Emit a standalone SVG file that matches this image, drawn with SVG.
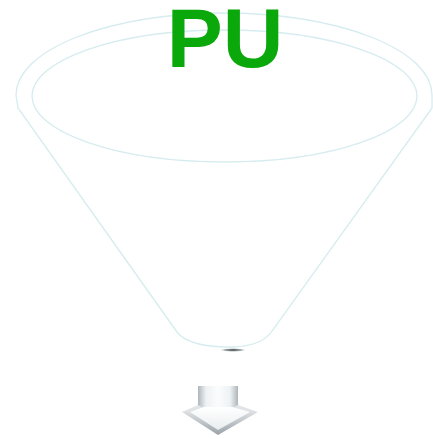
<svg xmlns="http://www.w3.org/2000/svg" width="433" height="439" viewBox="0 0 433 439">
<style>
.f{fill:none;stroke:#d6ecef;stroke-width:1.3}
.t{font-family:"Liberation Sans",Arial,sans-serif;font-weight:bold;font-size:84px;fill:#0aa80a;text-anchor:middle}
</style>
<defs>
<radialGradient id="sh" cx="0.5" cy="0.5" r="0.5">
<stop offset="0" stop-color="#2a3436"/>
<stop offset="0.6" stop-color="#7c8789" stop-opacity="0.7"/>
<stop offset="1" stop-color="#ffffff" stop-opacity="0"/>
</radialGradient>
<linearGradient id="as" x1="0" y1="0" x2="1" y2="0">
<stop offset="0" stop-color="#aeb5ba"/>
<stop offset="0.2" stop-color="#eef2f4"/>
<stop offset="0.5" stop-color="#fbfcfd"/>
<stop offset="0.8" stop-color="#eef2f4"/>
<stop offset="1" stop-color="#aeb5ba"/>
</linearGradient>
<linearGradient id="ah" x1="0" y1="0" x2="0" y2="1">
<stop offset="0" stop-color="#f4f6f7"/>
<stop offset="0.5" stop-color="#dfe3e6"/>
<stop offset="1" stop-color="#9aa2a8"/>
</linearGradient>
<linearGradient id="af" x1="0" y1="0" x2="0" y2="1">
<stop offset="0" stop-color="#ffffff"/>
<stop offset="1" stop-color="#e9edef"/>
</linearGradient>
</defs>
<g id="funnel">
<path class="f" d="M16,95 A208,82 0 0 1 432,95 L432,108 L272,331 Q262,346 233,347 L225,347 Q188,346 177,332 L18,108 Z"/>
<ellipse class="f" cx="224.5" cy="96" rx="192.5" ry="66"/>
<ellipse cx="233" cy="350" rx="14" ry="2" fill="url(#sh)"/>
</g>
<g id="arrow">
<path d="M182,412 L198,405 L198,386 L238,386 L238,405 L258,412 L218,435 Z" fill="url(#ah)"/>
<path d="M198,386 L238,386 L238,405 L232,408 L204,408 L198,405 Z" fill="url(#as)"/>
<path d="M190,412 L204,407 L232,407 L250,412 L218,430 Z" fill="url(#af)"/>
</g>
<g id="label">
<text class="t" x="225" y="67">PU</text>
</g>
</svg>
